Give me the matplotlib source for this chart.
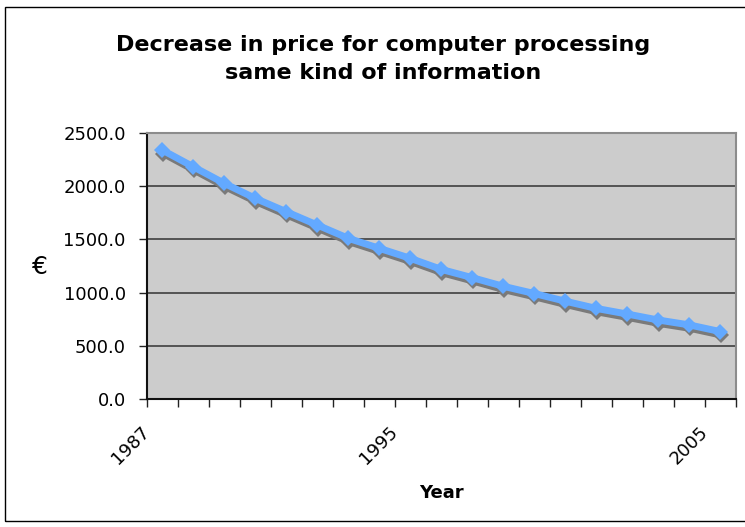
import matplotlib
matplotlib.use("Agg")
import matplotlib.pyplot as plt
import matplotlib.transforms as mtransforms
from matplotlib.patches import Rectangle

# price per year
years = list(range(1987, 2006))
prices = [2340, 2183, 2027, 1886, 1760, 1635, 1510, 1416, 1322, 1218,
          1140, 1059, 991, 919, 851, 798, 742, 696, 633]
shown_years = [1987, 1995, 2005]
y_ticks = [0, 500, 1000, 1500, 2000, 2500]

W, H = 745, 527
fig = plt.figure(figsize=(W / 100, H / 100), dpi=100)
fig.patch.set_facecolor("white")

# outer chart frame
fig.patches.append(Rectangle((5 / W, 1 - 521 / H), 1.2, (521 - 7) / H,
                             transform=fig.transFigure, fill=False,
                             edgecolor="black", linewidth=1.0, zorder=0))

ax = fig.add_axes([146.7 / W, 1 - 399 / H, (736 - 146.7) / W, (399 - 133) / H])
ax.set_facecolor("#CCCCCC")

x = list(range(len(years)))

# grey drop shadow under the series
shadow = mtransforms.ScaledTranslation(1 / 100, -3.5 / 100, fig.dpi_scale_trans)
ax.plot(x, prices, color="#7A7A7A", linewidth=5, marker="D", markersize=8.5,
        markeredgewidth=0, transform=ax.transData + shadow, zorder=3,
        clip_on=False)
ax.plot(x, prices, color="#63A9FF", linewidth=5, marker="D", markersize=8.5,
        markeredgewidth=0, zorder=4, clip_on=False)

ax.set_xlim(-0.5, len(years) - 0.5)
ax.set_ylim(0, 2500)

ax.set_yticks(y_ticks)
ax.set_yticklabels([f"{v:.1f}" for v in y_ticks])
ax.yaxis.grid(True, color="#333333", linewidth=1.1)
ax.set_axisbelow(True)

# ticks between categories, labels only on a few years
ax.set_xticks([i - 0.5 for i in range(len(years) + 1)])
ax.set_xticklabels([])
ax.set_xticks([years.index(yr) for yr in shown_years], minor=True)
ax.set_xticklabels([str(yr) for yr in shown_years], minor=True,
                   rotation=45, ha="right")
ax.tick_params(axis="x", which="minor", length=0, pad=17)
ax.tick_params(axis="x", which="major", length=6, width=1, color="#222222",
               direction="out")
ax.tick_params(axis="y", length=6, width=1, color="#222222", pad=9,
               labelsize=13)
ax.tick_params(axis="x", which="minor", labelsize=13)
shift = mtransforms.ScaledTranslation(-9 / 100, 0, fig.dpi_scale_trans)
for lbl in ax.get_xticklabels(minor=True):
    lbl.set_transform(lbl.get_transform() + shift)

for side in ("left", "bottom"):
    ax.spines[side].set_color("#111111")
    ax.spines[side].set_linewidth(1.5)
for side in ("top", "right"):
    ax.spines[side].set_color("#8C8C8C")
    ax.spines[side].set_linewidth(1.5)

fig.text(383 / W, 1 - 59 / H,
         "Decrease in price for computer processing\nsame kind of information",
         ha="center", va="center", fontsize=16, fontweight="bold",
         linespacing=1.45)
fig.text(40 / W, 1 - 267 / H, "€", ha="center", va="center", fontsize=18)
fig.text(441 / W, 1 - 493 / H, "Year", ha="center", va="center",
         fontsize=13, fontweight="bold")

fig.savefig("out.png", dpi=100)
